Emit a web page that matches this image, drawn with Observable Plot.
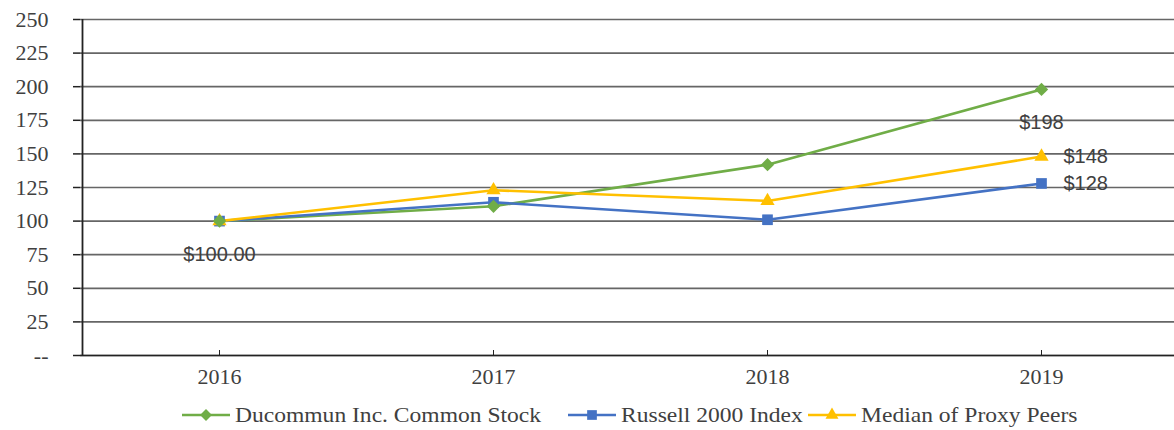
<!DOCTYPE html>
<html>
<head>
<meta charset="utf-8">
<script src="https://cdn.jsdelivr.net/npm/d3@7"></script>
<script src="https://cdn.jsdelivr.net/npm/@observablehq/plot@0.6"></script>
<style>
  html, body { margin: 0; padding: 0; background: #fff; overflow: hidden; }
  #chart svg { display: block; overflow: hidden; max-width: none; }
  #legend { position: relative; height: 30px; font-family: "Liberation Serif", "Times New Roman", serif; font-size: 22px; color: #404040; }
  .item { position: absolute; top: 0; height: 30px; display: flex; align-items: center; white-space: nowrap; }
  .item svg { margin-right: 5px; }
  .item span { display: inline-block; transform: scaleX(1.07); transform-origin: left center; }
</style>
</head>
<body>
<div id="chart"></div>
<div id="legend"></div>
<script>
const years = ["2016", "2017", "2018", "2019"];
const seriesNames = ["Ducommun Inc. Common Stock", "Russell 2000 Index", "Median of Proxy Peers"];
const ducommun = [100, 111, 142, 198];
const russell = [100, 114, 101, 128];
const median = [100, 123, 115, 148];
const colors = ["#70AD47", "#4472C4", "#FFC000"];
const symbols = ["diamond2", "square2", "triangle2"];
const yTicks = [0, 25, 50, 75, 100, 125, 150, 175, 200, 225, 250];
const yTickLabels = ["--", "25", "50", "75", "100", "125", "150", "175", "200", "225", "250"];
// data labels: [series index, year index, text]
const labelsBelow = [[0, 0, "$100.00"], [0, 3, "$198"]];
const labelsRight = [[2, 3, "$148"], [1, 3, "$128"]];
const legendX = [182, 568, 808];

const allValues = [ducommun, russell, median];
const data = [];
seriesNames.forEach((s, i) => years.forEach((y, j) => data.push({series: s, year: y, value: allValues[i][j]})));
const toLabel = ([i, j, t]) => ({series: seriesNames[i], year: years[j], value: allValues[i][j], text: t});

const plot = Plot.plot({
  width: 1174,
  height: 400,
  marginTop: 19,
  marginBottom: 45,
  marginLeft: 80,
  marginRight: -5,
  style: {fontFamily: "'Liberation Serif', 'Times New Roman', serif", fontSize: "22px", color: "#404040"},
  x: {type: "point", domain: years, padding: 0.5, label: null},
  y: {domain: [0, 250], label: null},
  color: {domain: seriesNames, range: colors},
  symbol: {domain: seriesNames, range: symbols},
  r: {type: "identity"},
  marks: [
    Plot.gridY(yTicks, {stroke: "#666", strokeOpacity: 1, strokeWidth: 1.7}),
    Plot.axisY(yTicks, {tickSize: 7, tickPadding: 25, tickFormat: (d) => yTickLabels[yTicks.indexOf(d)], stroke: "#222", strokeWidth: 1.5, fill: "#404040", fontSize: 22}),
    Plot.ruleY([0], {stroke: "#222", strokeWidth: 1.6}),
    Plot.ruleX([years[0]], {y1: 0, y2: 250, dx: -137, stroke: "#222", strokeWidth: 1.8}),
    Plot.axisX({tickSize: -5, tickPadding: 18, stroke: "#222", fill: "#404040", fontSize: 22}),
    Plot.line(data, {x: "year", y: "value", z: "series", stroke: "series", strokeWidth: 2.6}),
    Plot.dot(data, {x: "year", y: "value", fill: "series", symbol: "series", r: (d) => d.series === seriesNames[0] ? 6 : 6.8, stroke: "none"}),
    Plot.text(labelsBelow.map(toLabel), {x: "year", y: "value", text: "text", dy: 33, fontFamily: "'Liberation Sans', Arial, sans-serif", fontSize: 20, fill: "#404040"}),
    Plot.text(labelsRight.map(toLabel), {x: "year", y: "value", text: "text", dx: 22, textAnchor: "start", fontFamily: "'Liberation Sans', Arial, sans-serif", fontSize: 20, fill: "#404040"})
  ]
});
document.getElementById("chart").appendChild(plot);

const legend = document.getElementById("legend");
seriesNames.forEach((s, i) => {
  const item = document.createElement("div");
  item.className = "item";
  item.style.left = legendX[i] + "px";
  const svg = d3.create("svg").attr("width", 48).attr("height", 16);
  svg.append("line").attr("x1", 0).attr("x2", 48).attr("y1", 8).attr("y2", 8).attr("stroke", colors[i]).attr("stroke-width", 2.6);
  const sym = {diamond2: d3.symbolDiamond2, square2: d3.symbolSquare2, triangle2: d3.symbolTriangle2}[symbols[i]];
  svg.append("path").attr("transform", "translate(24,8)").attr("d", d3.symbol(sym, i === 0 ? 90 : 120)()).attr("fill", colors[i]);
  item.appendChild(svg.node());
  const span = document.createElement("span");
  span.textContent = s;
  item.appendChild(span);
  legend.appendChild(item);
});
</script>
</body>
</html>
